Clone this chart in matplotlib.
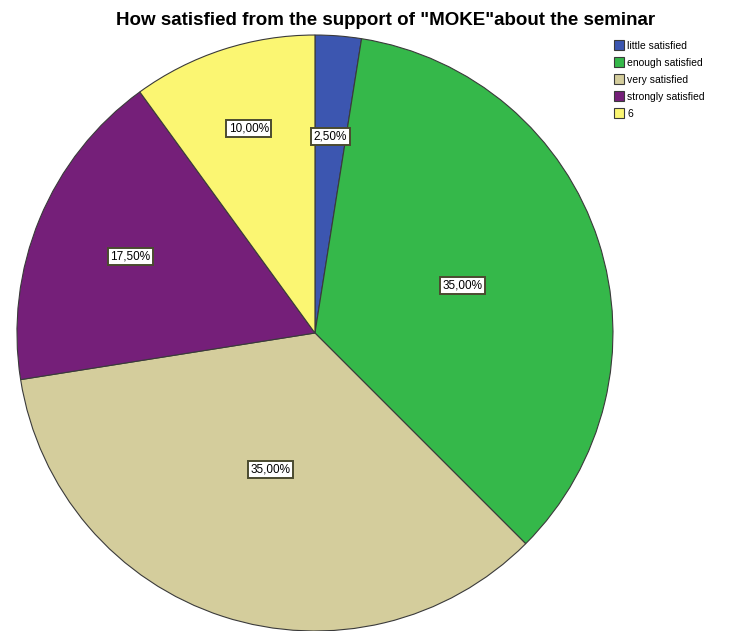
import numpy as np
import matplotlib.pyplot as plt

plt.rcParams['font.family'] = ['Liberation Sans', 'DejaVu Sans']

categories = ['little satisfied', 'enough satisfied', 'very satisfied', 'strongly satisfied', '6']
values = [2.5, 35.0, 35.0, 17.5, 10.0]
labels = ['2,50%', '35,00%', '35,00%', '17,50%', '10,00%']
colors = ['#3c56b0', '#35b84a', '#d4cd9c', '#751f79', '#fbf672']
# label distance from centre (fraction of radius), as SPSS placed them
label_r = [0.66, 0.52, 0.48, 0.67, 0.72]

fig = plt.figure(figsize=(7.41, 6.31), dpi=100)
ax = fig.add_axes([0.0229, 0.0, 0.8043, 0.9445])

wedges, _ = ax.pie(values, colors=colors, startangle=90, counterclock=False,
                   radius=1.0, wedgeprops=dict(edgecolor='#3a3a3a', linewidth=0.8))

total = sum(values)
cum = 0
for v, lab, r in zip(values, labels, label_r):
    mid = (cum + v / 2) / total * 360
    cum += v
    a = np.deg2rad(90 - mid)
    ax.text(r * np.cos(a), r * np.sin(a), lab, ha='center', va='center', fontsize=8.5,
            bbox=dict(facecolor='white', edgecolor='#4b4b30', linewidth=1.4, pad=1.8))

ax.set_xlim(-1, 1)
ax.set_ylim(-1, 1)
ax.set_aspect('equal')
ax.axis('off')

fig.text(0.52, 0.968, 'How satisfied from the support of "MOKE"about the seminar',
         ha='center', va='center', fontsize=13.5, fontweight='bold')

fig.legend(wedges, categories, loc='upper left', bbox_to_anchor=(0.828, 0.936),
           fontsize=7.5, frameon=False, handlelength=1.0, handleheight=1.0,
           handletextpad=0.3, labelspacing=0.65, borderaxespad=0, borderpad=0)

fig.savefig('out.png', dpi=100)
